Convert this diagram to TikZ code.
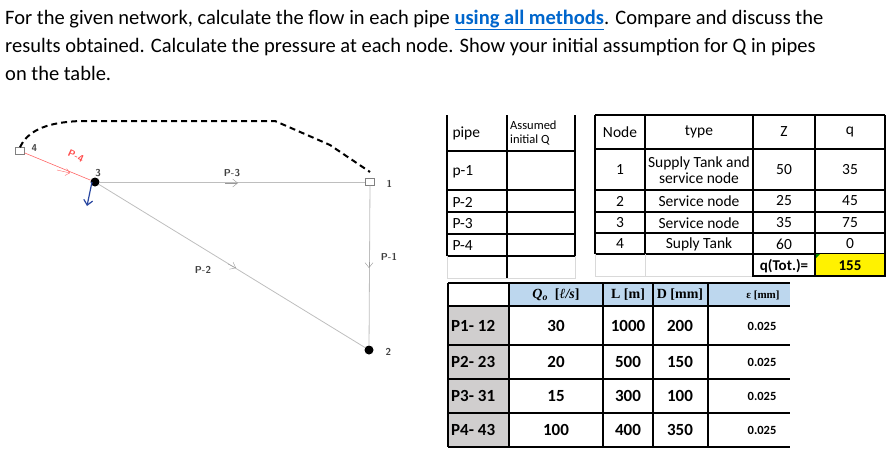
\documentclass[tikz,border=0pt]{standalone}
\usepackage{fontspec}
\setmainfont{Carlito}
\newfontfamily\tnr{Liberation Serif}
\usetikzlibrary{arrows.meta}
\definecolor{pipeg}{RGB}{190,190,190}
\definecolor{hdrblue}{RGB}{189,215,238}
\definecolor{cellgray}{RGB}{208,206,206}
\definecolor{linkblue}{RGB}{0,102,204}
\begin{document}
\begin{tikzpicture}[x=1pt,y=-1pt,
  pipe/.style={draw=pipeg,line width=0.8pt},
  lbl/.style={font=\sffamily\bfseries\fontsize{10}{11}\selectfont,text=black!75},
  tk/.style={draw=gray,fill=white,minimum width=9pt,minimum height=7pt,inner sep=0pt},
  jn/.style={circle,fill=black,minimum width=9pt,minimum height=7pt,inner sep=0pt},
  cell/.style={font=\fontsize{15.5}{16}\selectfont},
  bcell/.style={font=\bfseries\fontsize{17}{18}\selectfont},
  arr/.style={-{Straight Barb[length=5pt,width=8pt]},draw=gray!80}]
\useasboundingbox (0,0) rectangle (892,466);
% title
\node[anchor=base west,inner sep=0,font=\fontsize{20.5}{24}\selectfont] (t1) at (5,24) {For the given network, calculate the flow in each pipe \textcolor{linkblue}{\underline{\textbf{using all methods}}}. Compare and discuss the};
\node[anchor=base west,inner sep=0,font=\fontsize{20.5}{24}\selectfont] (t2) at (5,52) {results obtained. Calculate the pressure at each node. Show your initial assumption for Q in pipes};
\node[anchor=base west,inner sep=0,font=\fontsize{20.5}{24}\selectfont] (t3) at (5,80) {on the table.};
% network
\node[tk] (n4) at (20,151) {};
\node[jn] (n3) at (95,182) {};
\node[tk] (n1) at (370,182) {};
\node[jn] (n2) at (369,350) {};
\node[lbl,anchor=west] at (28,148) {4};
\node[lbl] at (98,173) {3};
\node[lbl,anchor=west] at (383,184) {1};
\node[lbl,anchor=west] at (382,352) {2};
\draw[draw=red!60,line width=0.6pt] (n4) -- (n3);
\draw[pipe] (n3) -- (n1);
\draw[pipe] (n1) -- (n2);
\draw[pipe] (n3) -- (n2);
\draw[draw=red!60,-{Straight Barb[length=4pt,width=7pt]}] (57,170) -- (70,173);
\draw[arr] (225,183) -- (238,183);
\draw[arr] (369,262) -- (369,268);
\draw[arr] (228,264) -- (236,268);
\node[lbl,text=red!70,rotate=-25] at (76,156) {P-4};
\node[lbl] at (232,173) {P-3};
\node[lbl] at (389,257) {P-1};
\node[lbl] at (203,270) {P-2};
\draw[draw={rgb,255:red,40;green,70;blue,160},line width=1.2pt,-{Straight Barb[length=5pt,width=9pt]}] (92,182) -- (87,206);
\draw[line width=2pt,dash pattern=on 6pt off 4pt] (n4.north) .. controls (30,125) and (60,122) .. (80,121) -- (275,121) -- (330,145) -- (370,172);
% table 1
\foreach \y in {151,190,212,234,256}{\draw[line width=1.2pt] (447,\y) -- (575,\y);}
\draw[line width=1.2pt] (447,115) -- (447,256) (507,115) -- (507,278) (575,115) -- (575,256);
\draw[gray!30] (447,256) -- (447,278) -- (575,278) -- (575,256);
\node[cell,anchor=west] at (449,133) {pipe};
\node[font=\fontsize{12.5}{13.5}\selectfont,align=left,anchor=west,inner sep=1pt] at (509,133) {Assumed\\initial Q};
\node[cell,anchor=west] at (449,172) {p-1};
\node[cell,anchor=west] at (449,202) {P-2};
\node[cell,anchor=west] at (449,224) {P-3};
\node[cell,anchor=west] at (449,246) {P-4};
% table 2
\foreach \y in {115,149,190,212,233,254}{\draw[line width=1.2pt] (595,\y) -- (885,\y);}
\foreach \x in {595,645,753,815,885}{\draw[line width=1.2pt] (\x,115) -- (\x,254);}
\draw[gray!30] (595,254) -- (595,276) -- (753,276) (645,254) -- (645,276);
\fill[yellow] (815,254) rectangle (885,276);
\fill[green!50!black] (815,254) -- (820,254) -- (815,259) -- cycle;
\draw[line width=1.2pt] (753,254) -- (753,276) -- (885,276) -- (885,254) (815,254) -- (815,276);
\node[cell] at (620,132) {Node};
\node[cell] at (699,132) {type};
\node[cell] at (784,132) {Z};
\node[cell] at (850,132) {q};
\node[cell] at (620,170) {1};
\node[cell,align=center,inner sep=0pt] at (699,170) {Supply Tank and\\service node};
\node[cell] at (784,170) {50};
\node[cell] at (850,170) {35};
\node[cell] at (620,201) {2};
\node[cell] at (699,201) {Service node};
\node[cell] at (784,201) {25};
\node[cell] at (850,201) {45};
\node[cell] at (620,223) {3};
\node[cell] at (699,223) {Service node};
\node[cell] at (784,223) {35};
\node[cell] at (850,223) {75};
\node[cell] at (620,244) {4};
\node[cell] at (699,244) {Suply Tank};
\node[cell] at (784,244) {60};
\node[cell] at (850,244) {0};
\node[font=\bfseries\fontsize{15}{16}\selectfont,inner sep=0pt] at (784,266) {q(Tot.)=};
\node[font=\bfseries\fontsize{15}{16}\selectfont] at (850,266) {155};
% table 3
\fill[hdrblue] (509,283) rectangle (790,306);
\fill[cellgray] (448,306) rectangle (509,447);
\foreach \y in {283,306,345,379,413,447}{\draw[line width=1.2pt] (448,\y) -- (790,\y);}
\foreach \x in {448,509,603,653,708}{\draw[line width=1.2pt] (\x,283) -- (\x,447);}
\node[font=\tnr\bfseries\fontsize{14}{15}\selectfont] at (556,295) {\textit{Q\textsubscript{o}} \ [\textit{ℓ/s}]};
\node[font=\tnr\bfseries\fontsize{14}{15}\selectfont] at (628,295) {L [m]};
\node[font=\tnr\bfseries\fontsize{14}{15}\selectfont] at (680,295) {D [mm]};
\node[font=\tnr\bfseries\fontsize{11}{12}\selectfont] at (763,295) {ε [mm]};
\foreach \y/\p/\q/\l/\d in {326/P1- 12/30/1000/200, 362/P2- 23/20/500/150, 396/P3- 31/15/300/100, 430/P4- 43/100/400/350}{
  \node[bcell,anchor=west,inner sep=1pt] at (450,\y) {\p};
  \node[bcell] at (556,\y) {\q};
  \node[bcell] at (628,\y) {\l};
  \node[bcell] at (680,\y) {\d};
  \node[font=\bfseries\fontsize{12.5}{13}\selectfont] at (762,\y) {0.025};
}
\end{tikzpicture}
\end{document}
